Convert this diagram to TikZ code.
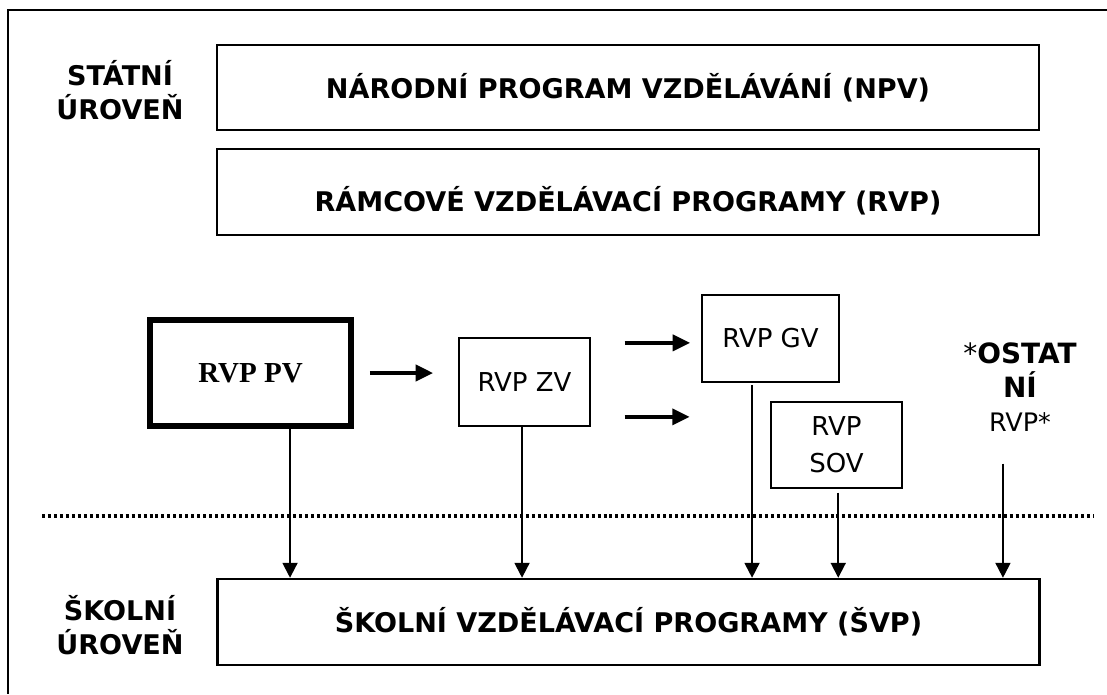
\documentclass[tikz,border=0pt]{standalone}
\usepackage{fontspec}
\setmainfont{DejaVu Sans}
\newfontfamily\timesfont{Liberation Serif}
\usetikzlibrary{arrows.meta}

\begin{document}
\begin{tikzpicture}[x=0.02cm, y=-0.02cm,
    box/.style={draw, line width=1.4pt, inner sep=0pt},
    level/.style={box, minimum width=16.44cm, minimum height=1.72cm,
        font=\fontsize{15.4}{19}\selectfont\bfseries},
    rvpbox/.style={box, minimum width=2.62cm, minimum height=1.76cm, align=center,
        font=\fontsize{14.8}{21}\selectfont},
    tag/.style={align=center, inner sep=0pt, font=\fontsize{15.4}{19.6}\selectfont\bfseries},
    down/.style={-{Triangle[length=8.5pt,width=8.5pt]}, line width=1.1pt},
    fat/.style={-{Triangle[length=10pt,width=9pt]}, line width=2.4pt}]

    \useasboundingbox (0,0) rectangle (1107,694);

    % Frame
    \draw[line width=1.7pt] (1107,10) -- (8,10) -- (8,694);

    % State level
    \node[tag] (statni) at (120,90) {STÁTNÍ\\ÚROVEŇ};
    \node[level, minimum height=1.70cm] (npv) at (628,87.5) {NÁRODNÍ PROGRAM VZDĚLÁVÁNÍ (NPV)};
    \node[level, text height=0.79cm, text depth=0pt] (rvp) at (628,192) {RÁMCOVÉ VZDĚLÁVACÍ PROGRAMY (RVP)};

    % Framework programmes
    \node[box, line width=3.4pt, minimum width=4.02cm, minimum height=2.12cm,
        font=\timesfont\fontsize{16.5}{19}\selectfont\bfseries] (pv) at (250.5,373) {RVP PV};
    \node[rvpbox] (zv) at (524.5,382) {RVP ZV};
    \node[rvpbox, minimum width=2.74cm, minimum height=1.74cm] (gv) at (770.5,338.5) {RVP GV};
    \node[rvpbox, minimum height=1.72cm] (sov) at (836.5,445) {RVP\\SOV};
    \node[align=center, inner sep=0pt, font=\fontsize{15.9}{19.5}\selectfont] (ostatni) at (1020,387)
        {*\textbf{OSTAT}\\\textbf{NÍ}\\{\fontsize{14.5}{19.5}\selectfont RVP*}};

    % School level
    \node[tag] (skolni) at (120,625) {ŠKOLNÍ\\ÚROVEŇ};
    \node[level] (svp) at (628.5,622) {ŠKOLNÍ VZDĚLÁVACÍ PROGRAMY (ŠVP)};

    % Border between the levels
    \draw[line width=1.8pt, dash pattern=on 1.7pt off 1.7pt] (42,516) -- (1094,516);

    % Horizontal arrows
    \draw[fat, shorten <=9pt, shorten >=14pt] (pv) -- (pv -| zv.west);
    \draw[fat, shorten <=19pt, shorten >=6pt] ([yshift=-2.5pt]zv.east |- gv.west) -- ([yshift=-2.5pt]gv.west);
    \draw[fat, shorten <=19pt, shorten >=45.5pt] ([yshift=16pt]zv.east |- sov.west) -- ([yshift=16pt]sov.west);

    % Arrows down to the school level
    \draw[down] ([xshift=22.5pt]pv.south) -- ([xshift=22.5pt]pv.south |- svp.north);
    \draw[down] ([xshift=-1.4pt]zv.south) -- ([xshift=-1.4pt]zv.south |- svp.north);
    \draw[down, shorten <=1pt] ([xshift=-10.5pt]gv.south) -- ([xshift=-10.5pt]gv.south |- svp.north);
    \draw[down, shorten <=2pt] ([xshift=1pt]sov.south) -- ([xshift=1pt]sov.south |- svp.north);
    \draw[down, shorten <=18pt] ([xshift=-9.7pt]ostatni.south) -- ([xshift=-9.7pt]ostatni.south |- svp.north);
\end{tikzpicture}
\end{document}
